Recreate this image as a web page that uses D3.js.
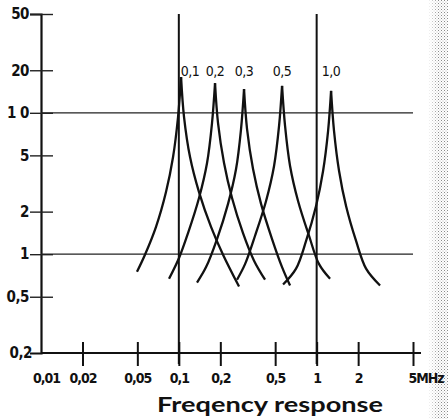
<!DOCTYPE html>
<html>
<head>
<meta charset="utf-8">
<script src="https://cdn.jsdelivr.net/npm/d3@7"></script>
<style>
  body { margin: 0; background: #fff; }
  svg { display: block; }
  text { font-family: "Liberation Sans Narrow", "DejaVu Sans Condensed", sans-serif; fill: #111; }
</style>
</head>
<body>
<div id="chart"></div>
<script>
const width = 448, height = 419

const xTicks = [0.01, 0.02, 0.05, 0.1, 0.2, 0.5, 1, 2, 5]
const xTickLabels = ["0,01", "0,02", "0,05", "0,1", "0,2", "0,5", "1", "2", "5MHz"]
const yTicks = [0.2, 0.5, 1, 2, 5, 10, 20, 50]
const yTickLabels = ["0,2", "0,5", "1", "2", "5", "1 0", "20", "50"]

const refFreqs = [0.1, 1]
const refGains = [1, 10]

const curveLabels = ["0,1", "0,2", "0,3", "0,5", "1,0"]

const freq01 = [0.0497, 0.0568, 0.0683, 0.0807, 0.0908, 0.0987, 0.1038, 0.1091, 0.1206, 0.1401, 0.1713, 0.2093, 0.2734]
const gain01 = [0.75, 0.99, 1.56, 2.75, 4.87, 9.34, 17.9, 9.34, 4.87, 2.75, 1.56, 0.99, 0.59]

const freq02 = [0.0849, 0.1003, 0.1166, 0.1401, 0.1602, 0.1741, 0.1831, 0.1925, 0.2128, 0.2432, 0.2922, 0.3513, 0.4222]
const gain02 = [0.67, 0.94, 1.41, 2.50, 4.42, 8.47, 16.2, 8.47, 4.42, 2.50, 1.41, 0.90, 0.66]

const freq03 = [0.1355, 0.1576, 0.1893, 0.2275, 0.2601, 0.2827, 0.2972, 0.3126, 0.3455, 0.3950, 0.4747, 0.5610, 0.6412]
const gain03 = [0.63, 0.81, 1.28, 2.27, 4.00, 7.68, 14.7, 7.68, 4.00, 2.27, 1.28, 0.81, 0.60]

const freq05 = [0.2644, 0.3022, 0.3573, 0.4294, 0.4908, 0.5335, 0.5610, 0.5898, 0.6412, 0.7328, 0.8806, 1.041, 1.251]
const gain05 = [0.66, 0.85, 1.35, 2.38, 4.21, 8.07, 15.5, 8.07, 4.21, 2.38, 1.35, 0.85, 0.67]

const freq10 = [0.5705, 0.7087, 0.838, 0.990, 1.113, 1.210, 1.272, 1.337, 1.454, 1.634, 1.932, 2.283, 2.884]
const gain10 = [0.61, 0.79, 1.24, 2.19, 3.88, 7.43, 14.3, 7.43, 3.88, 2.19, 1.24, 0.79, 0.60]

const curves = [[freq01, gain01], [freq02, gain02], [freq03, gain03], [freq05, gain05], [freq10, gain10]]
  .map(([f, g], i) => ({ label: curveLabels[i], pts: f.map((v, j) => [v, g[j]]) }))

const x = d3.scaleLog().domain([0.01, 5]).range([41, 413])
const y = d3.scaleLog().domain([0.2, 50]).range([353, 14])

const svg = d3.select("#chart").append("svg")
  .attr("width", width)
  .attr("height", height)

// scanner halftone on the right edge
const defs = svg.append("defs")
const pat = defs.append("pattern")
  .attr("id", "dots")
  .attr("width", 3).attr("height", 3)
  .attr("patternUnits", "userSpaceOnUse")
pat.append("rect").attr("x", 0).attr("y", 0).attr("width", 1).attr("height", 1).attr("fill", "#8a8a8a")
pat.append("rect").attr("x", 1.5).attr("y", 1.5).attr("width", 1).attr("height", 1).attr("fill", "#b4b4b4")
const grad = defs.append("linearGradient").attr("id", "fade")
grad.append("stop").attr("offset", "0").attr("stop-color", "#fff").attr("stop-opacity", 1)
grad.append("stop").attr("offset", "0.5").attr("stop-color", "#fff").attr("stop-opacity", 0)
svg.append("rect").attr("x", 428).attr("y", 0).attr("width", 20).attr("height", height).attr("fill", "url(#dots)")
svg.append("rect").attr("x", 428).attr("y", 0).attr("width", 20).attr("height", height).attr("fill", "url(#fade)")

// y axis
const yAxis = svg.append("g")
  .attr("transform", "translate(" + x(0.01) + ",0)")
  .call(d3.axisLeft(y).tickValues(yTicks).tickFormat((d, i) => yTickLabels[i]).tickSize(11).tickPadding(2))
yAxis.select(".domain").attr("stroke", "#111").attr("stroke-width", 2.2)
yAxis.selectAll(".tick line")
  .attr("x1", 12).attr("stroke", "#222").attr("stroke-width", 1.4)
  .attr("display", d => d === 0.2 ? "none" : null)
yAxis.selectAll(".tick text")
  .attr("font-size", 15).attr("font-weight", "bold").attr("letter-spacing", -0.5).attr("x", -12)
yAxis.selectAll(".tick").filter(d => d === 0.2).select("text").attr("x", -9)

// x axis
const xAxis = svg.append("g")
  .attr("transform", "translate(0," + y(0.2) + ")")
  .call(d3.axisBottom(x).tickValues(xTicks).tickFormat((d, i) => xTickLabels[i]).tickSize(13).tickSizeOuter(0))
xAxis.select(".domain").remove()
xAxis.append("line")
  .attr("x1", x(0.01)).attr("x2", x(5) + 8)
  .attr("stroke", "#111").attr("stroke-width", 2)
xAxis.selectAll(".tick line")
  .attr("y1", -11).attr("stroke", "#111").attr("stroke-width", 2)
  .attr("display", d => d === 0.01 ? "none" : null)
xAxis.selectAll(".tick text")
  .attr("font-size", 14).attr("font-weight", "bold").attr("letter-spacing", -1).attr("y", 20)
xAxis.selectAll(".tick").filter(d => d === 0.01).select("text").attr("x", 5)
xAxis.selectAll(".tick").filter(d => d === 5).select("text")
  .attr("text-anchor", "start").attr("x", -5)

// reference lines
svg.selectAll(".hline").data(refGains).enter().append("line")
  .attr("class", "hline")
  .attr("x1", x(0.01)).attr("x2", x(5))
  .attr("y1", d => y(d)).attr("y2", d => y(d))
  .attr("stroke", "#222").attr("stroke-width", 1.3)

svg.selectAll(".vline").data(refFreqs).enter().append("line")
  .attr("class", "vline")
  .attr("x1", d => x(d)).attr("x2", d => x(d))
  .attr("y1", y(50)).attr("y2", y(0.2) + 11)
  .attr("stroke", "#111").attr("stroke-width", 2)

// resonance curves, each drawn as two branches from its peak
const line = d3.line()
  .x(d => x(d[0]))
  .y(d => y(d[1]))
  .curve(d3.curveCatmullRom.alpha(0.5))

curves.forEach((c, i) => {
  const k = d3.maxIndex(c.pts, d => d[1])
  const g = svg.append("g").attr("class", "curve")
  g.append("path").attr("d", line(c.pts.slice(0, k + 1)))
  g.append("path").attr("d", line(c.pts.slice(k)))
  g.selectAll("path")
    .attr("fill", "none").attr("stroke", "#111")
    .attr("stroke-width", 2.3).attr("stroke-linejoin", "miter")
  // first label sits right of the 0,1 line
  g.append("text")
    .attr("x", x(c.pts[k][0]) + (i === 0 ? 9 : 0))
    .attr("y", y(20) + 6)
    .attr("text-anchor", "middle")
    .attr("font-size", 14)
    .attr("letter-spacing", -0.5)
    .text(c.label)
})

svg.append("text")
  .attr("x", 157).attr("y", 412)
  .style("font-family", "Lato, 'Open Sans', sans-serif")
  .attr("font-size", 20)
  .attr("font-weight", "bold")
  .attr("textLength", 226)
  .attr("lengthAdjust", "spacingAndGlyphs")
  .text("Freqency response")
</script>
</body>
</html>
